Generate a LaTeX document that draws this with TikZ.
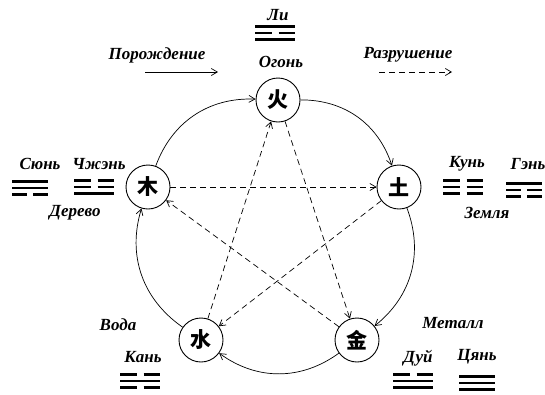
\documentclass[tikz,border=0pt]{standalone}
\usepackage{fontspec}
\setmainfont{Liberation Serif}
\newfontfamily\hanzi{Noto Sans CJK SC}
\usetikzlibrary{arrows.meta, positioning}

% one trigram: three lines, top to bottom, 1 = solid, 0 = broken
\tikzset{
  pics/gua/.style n args={3}{code={
    \foreach \bit [count=\i] in {#1,#2,#3}{
      \pgfmathsetmacro\yy{(\i-2)*6.5}
      \ifnum\bit=1
        \draw[yao] (-20,\yy) -- (20,\yy);
      \else
        \draw[yao] (-20,\yy) -- (-3.5,\yy) (3.5,\yy) -- (20,\yy);
      \fi
    }
  }}
}

\begin{document}
\begin{tikzpicture}[x=1pt, y=-1pt,
elem/.style={circle, draw, line width=0.9pt, minimum size=44pt, inner sep=0pt, font=\hanzi\bfseries\fontsize{21}{21}\selectfont},
lbl/.style={font=\bfseries\itshape\fontsize{17}{17}\selectfont, inner sep=1pt},
gen/.style={-{Straight Barb[length=6pt,width=7pt]}, line width=0.7pt},
ko/.style={gen, dash pattern=on 6pt off 4pt},
yao/.style={line width=2.2pt}
]
\useasboundingbox (0,0) rectangle (545,394);

% five elements
\node[elem] (fire) at (278,100) {火};
\node[elem] (earth) at (399,187) {土};
\node[elem] (metal) at (357,340) {金};
\node[elem] (water) at (201,340) {水};
\node[elem] (wood) at (148,187) {木};

% generating cycle
\draw[gen] (fire) to[bend left=36] (earth);
\draw[gen] (earth) to[bend left=36] (metal);
\draw[gen] (metal) to[bend left=36] (water);
\draw[gen] (water) to[bend left=36] (wood);
\draw[gen] (wood) to[bend left=36] (fire);

% destroying cycle
\draw[ko] (fire) -- (metal);
\draw[ko] (metal) -- (wood);
\draw[ko] (wood) -- (earth);
\draw[ko] (earth) -- (water);
\draw[ko] (water) -- (fire);

% legend
\node[lbl] (genlbl) at (157,55) {Порождение};
\coordinate (g1) at (145,72);
\coordinate (g2) at (218,72);
\draw[gen] (g1) -- (g2);
\node[lbl] (kolbl) at (408,55) {Разрушение};
\coordinate (k1) at (379,72);
\coordinate (k2) at (452,72);
\draw[ko] (k1) -- (k2);

% fire
\node[lbl] (li) at (278,15) {Ли};
\pic at (275,33) {gua={1}{0}{1}};
\node[lbl] (ogon) at (281,62) {Огонь};

% wood
\node[lbl] (sun) at (40,164) {Сюнь};
\pic[xscale=0.88] at (30,188) {gua={1}{1}{0}};
\node[lbl] (zhen) at (99,164) {Чжэнь};
\pic at (94,187) {gua={0}{0}{1}};
\node[lbl] (derevo) at (75,213) {Дерево};

% earth
\node[lbl] (kun) at (467,164) {Кунь};
\pic at (463,187) {gua={0}{0}{0}};
\node[lbl] (gen) at (528,164) {Гэнь};
\pic[xscale=0.88] at (524,190) {gua={1}{0}{0}};
\node[lbl] (zemlya) at (487,213) {Земля};

% water
\node[lbl] (voda) at (118,325) {Вода};
\node[lbl] (kan) at (143,357) {Кань};
\pic at (140,381) {gua={0}{1}{0}};

% metal
\node[lbl] (metall) at (453,323) {Металл};
\node[lbl] (dui) at (418,358) {Дуй};
\pic at (413,381) {gua={0}{1}{1}};
\node[lbl] (qian) at (477,357) {Цянь};
\pic[xscale=0.88] at (477,383) {gua={1}{1}{1}};
\end{tikzpicture}
\end{document}
